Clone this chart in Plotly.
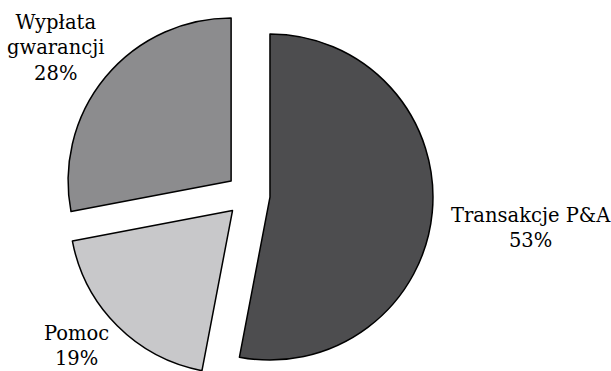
import plotly.graph_objects as go

labels = ["Transakcje P&A", "Pomoc", "Wypłata gwarancji"]
values = [53, 19, 28]
label_text = ["Transakcje P&A<br>53%", "Pomoc<br>19%", "Wypłata<br>gwarancji<br>28%"]
colors = ["#4d4d4f", "#c8c8ca", "#8c8c8e"]

W, H = 611, 390
MT, MB = 10, 10
PH = H - MT - MB

def px(x):
    return x / W

def py(y):
    return 1 - (y - MT) / PH

fig = go.Figure(go.Pie(
    labels=labels,
    values=values,
    sort=False,
    direction="clockwise",
    rotation=0,
    pull=[0.135, 0.135, 0.135],
    marker=dict(colors=colors, line=dict(color="black", width=1.5)),
    textinfo="none",
    hoverinfo="label+percent",
    showlegend=False,
    domain=dict(x=[0, 0.812], y=[0, 1]),
))

label_pos = [(531, 228), (76, 346), (56, 48)]
for t, (x, y) in zip(label_text, label_pos):
    fig.add_annotation(
        text=t, x=px(x), y=py(y), xref="paper", yref="paper",
        xanchor="center", yanchor="middle", showarrow=False,
        font=dict(family="DejaVu Serif", size=19.5, color="black"),
        align="center",
    )

fig.update_layout(
    width=W, height=H,
    margin=dict(l=0, r=0, t=MT, b=MB),
    paper_bgcolor="white", plot_bgcolor="white",
)

fig.write_html("out.html", config={"displayModeBar": False},
               post_script="document.body.style.overflow='hidden';document.body.style.margin='0';")
